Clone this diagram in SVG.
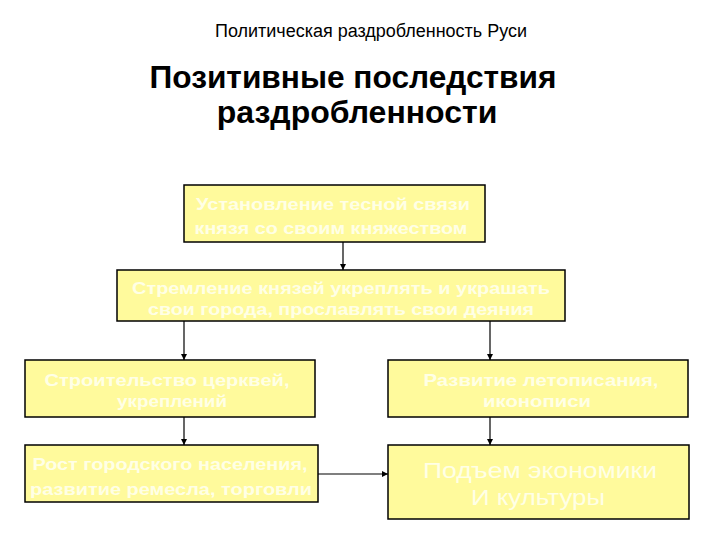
<svg xmlns="http://www.w3.org/2000/svg" width="720" height="540" viewBox="0 0 720 540">
<defs>
<marker id="ah" viewBox="0 0 10 10" refX="10" refY="5" markerWidth="6" markerHeight="6" orient="auto" markerUnits="userSpaceOnUse"><path d="M0,0 L10,5 L0,10 z" fill="#000"/></marker>
<style>
.box{fill:#FFFA9C;stroke:#000;stroke-width:1.5}
.t{font-family:"Liberation Sans",Arial,sans-serif;fill:#FFFFE6;text-anchor:middle}
.b{font-weight:bold;font-size:17px}
.c{stroke:#000;stroke-width:1.2;fill:none;marker-end:url(#ah)}
</style>
</defs>
<rect width="720" height="540" fill="#fff"/>
<g id="titles">
<text x="371" y="37" font-family="Liberation Sans,Arial,sans-serif" font-size="18" text-anchor="middle" textLength="312" lengthAdjust="spacingAndGlyphs">Политическая раздробленность Руси</text>
<text x="353" y="88" font-family="Liberation Sans,Arial,sans-serif" font-size="32" font-weight="bold" text-anchor="middle" textLength="407" lengthAdjust="spacingAndGlyphs">Позитивные последствия</text>
<text x="357" y="123" font-family="Liberation Sans,Arial,sans-serif" font-size="32" font-weight="bold" text-anchor="middle">раздробленности</text>
</g>
<g id="connectors">
<line class="c" x1="343" y1="242" x2="343" y2="270"/>
<line class="c" x1="184" y1="321" x2="184" y2="360"/>
<line class="c" x1="490" y1="321" x2="490" y2="360"/>
<line class="c" x1="184" y1="417" x2="184" y2="445"/>
<line class="c" x1="490" y1="417" x2="490" y2="445"/>
<line class="c" x1="318" y1="474" x2="388" y2="474"/>
</g>
<g id="n1">
<rect class="box" x="184" y="185" width="301" height="57"/>
<text class="t b" x="333" y="210" textLength="274" lengthAdjust="spacingAndGlyphs">Установление тесной связи</text>
<text class="t b" x="331" y="234" textLength="273" lengthAdjust="spacingAndGlyphs">князя со своим княжеством</text>
</g>
<g id="n2">
<rect class="box" x="117" y="270" width="448" height="51"/>
<text class="t b" x="341" y="294" textLength="418" lengthAdjust="spacingAndGlyphs">Стремление князей укреплять и украшать</text>
<text class="t b" x="341" y="315" textLength="386" lengthAdjust="spacingAndGlyphs">свои города, прославлять свои деяния</text>
</g>
<g id="n3">
<rect class="box" x="25" y="360" width="290" height="57"/>
<text class="t b" x="167" y="386" textLength="245" lengthAdjust="spacingAndGlyphs">Строительство церквей,</text>
<text class="t b" x="172" y="407" textLength="110" lengthAdjust="spacingAndGlyphs">укреплений</text>
</g>
<g id="n4">
<rect class="box" x="388" y="360" width="300" height="57"/>
<text class="t b" x="541" y="386" textLength="235" lengthAdjust="spacingAndGlyphs">Развитие летописания,</text>
<text class="t b" x="537" y="407" textLength="108" lengthAdjust="spacingAndGlyphs">иконописи</text>
</g>
<g id="n5">
<rect class="box" x="25" y="445" width="293" height="57"/>
<text class="t b" x="170" y="470" textLength="275" lengthAdjust="spacingAndGlyphs">Рост городского населения,</text>
<text class="t b" x="171" y="495" textLength="282" lengthAdjust="spacingAndGlyphs">развитие ремесла, торговли</text>
</g>
<g id="n6">
<rect class="box" x="388" y="445" width="301" height="74"/>
<text class="t" x="540" y="478" font-size="22" textLength="234" lengthAdjust="spacingAndGlyphs">Подъем экономики</text>
<text class="t" x="538" y="505" font-size="22" textLength="134" lengthAdjust="spacingAndGlyphs">И культуры</text>
</g>
</svg>
